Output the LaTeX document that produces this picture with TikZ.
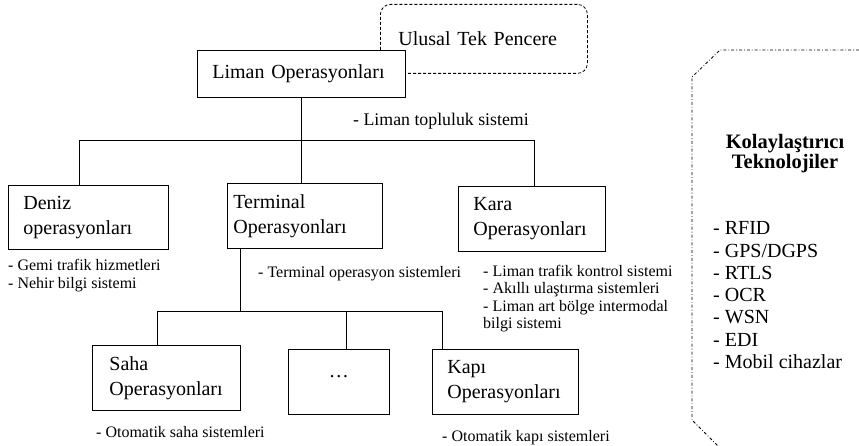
\documentclass[tikz,border=0pt]{standalone}
\usepackage{fontspec}
\setmainfont{Liberation Serif}
\usetikzlibrary{positioning}
\usetikzlibrary{calc}
\tikzset{%
	% Specifications for style of nodes:
	base/.style = {rectangle, draw=black, line width=0.8pt, fill=white,
		anchor=north west, inner xsep=15pt, inner ysep=0pt,
		align=left, font=\fontsize{20}{25}\selectfont},
	opBox/.style = {base, minimum height=65pt},
	window/.style = {base, dashed, dash pattern=on 3pt off 2pt,
		rounded corners=10pt, inner xsep=18pt},
	note/.style = {inner sep=0pt, align=left, font=\fontsize{16}{18}\selectfont},
	karaNote/.style = {note, font=\fontsize{16}{17.5}\selectfont},
	techTitle/.style = {inner sep=0pt, align=center,
		font=\fontsize{20.5}{20}\selectfont\bfseries},
	techList/.style = {inner sep=0pt, align=left,
		font=\fontsize{20}{22.3}\selectfont},
	link/.style = {draw=black, line width=0.8pt},
	techFrame/.style = {draw=black, line width=0.8pt,
		dash pattern=on 3pt off 2pt on 0.8pt off 2pt}
}
\begin{document}
\begin{tikzpicture}[x=1pt, y=-1pt]
		\path[use as bounding box, fill=white] (0,0) rectangle (859,446);
		\node (window) [window, text width=171pt, minimum height=69pt] at (380,4) {Ulusal Tek Pencere};
		\node (liman) [base, text width=178pt, minimum height=47pt] at (197,50) {Liman Operasyonları};
		\node (deniz) [opBox, text width=130pt, minimum height=64pt] at (8,185) {Deniz\\operasyonları};
		\node (terminal) [opBox, inner xsep=6pt, text width=143pt] at (227,183) {Terminal\\Operasyonları};
		\node (kara) [opBox, text width=117pt] at (458,186) {Kara\\Operasyonları};
		\node (saha) [opBox, inner xsep=17pt, text width=114pt] at (92,345) {Saha\\Operasyonları};
		\node (dots) [opBox, align=center, text width=71pt, text depth=10pt] at (288,349) {\ldots};
		\node (kapi) [opBox, text width=116pt] at (432,349) {Kapı\\Operasyonları};
		% upper tree
		\coordinate (busTop) at (0,140);
		\coordinate (denizTop) at ([xshift=71pt]deniz.north west);
		\coordinate (karaTop) at ([xshift=76pt]kara.north west);
		\draw[link] (liman.south) -- (liman.south |- terminal.north);
		\draw[link] (denizTop) |- (karaTop |- busTop) -- (karaTop);
		% lower tree
		\coordinate (busMid) at (0,311);
		\coordinate (termDrop) at ([xshift=13pt]terminal.south west);
		\coordinate (sahaTop) at ([xshift=65pt]saha.north west);
		\coordinate (dotsTop) at ([xshift=58pt]dots.north west);
		\coordinate (kapiTop) at ([xshift=10pt]kapi.north west);
		\draw[link] (termDrop) -- (termDrop |- busMid);
		\draw[link] (sahaTop) |- (kapiTop |- busMid) -- (kapiTop);
		\draw[link] (dotsTop) -- (dotsTop |- busMid);
		% notes
		\node (toplulukNote) [note, anchor=base west, font=\fontsize{17.8}{20}\selectfont] at (353,126) {- Liman topluluk sistemi};
		\node (denizNotes) [note, anchor=north west] at (8,259) {- Gemi trafik hizmetleri\\- Nehir bilgi sistemi};
		\node (termNote) [note, anchor=base west] at (258,277) {- Terminal operasyon sistemleri};
		\node (karaNotes) [karaNote, anchor=north west] at (483,265) {- Liman trafik kontrol sistemi\\- Akıllı ulaştırma sistemleri\\- Liman art bölge intermodal\\bilgi sistemi};
		\node (sahaNote) [note, anchor=base west] at (96,437) {- Otomatik saha sistemleri};
		\node (kapiNote) [note, anchor=base west] at (442,441) {- Otomatik kapı sistemleri};
		% enabling technologies
		\draw[techFrame] (859,50) -- (720,50) -- (692,77) -- (692,420) -- (718,446);
		\node (techHead) [techTitle, anchor=north] at (785,134) {Kolaylaştırıcı\\Teknolojiler};
		\node (techItems) [techList, anchor=north west] at (713,221.5) {- RFID\\- GPS/DGPS\\- RTLS\\- OCR\\- WSN\\- EDI\\- Mobil cihazlar};
	\end{tikzpicture}
\end{document}
